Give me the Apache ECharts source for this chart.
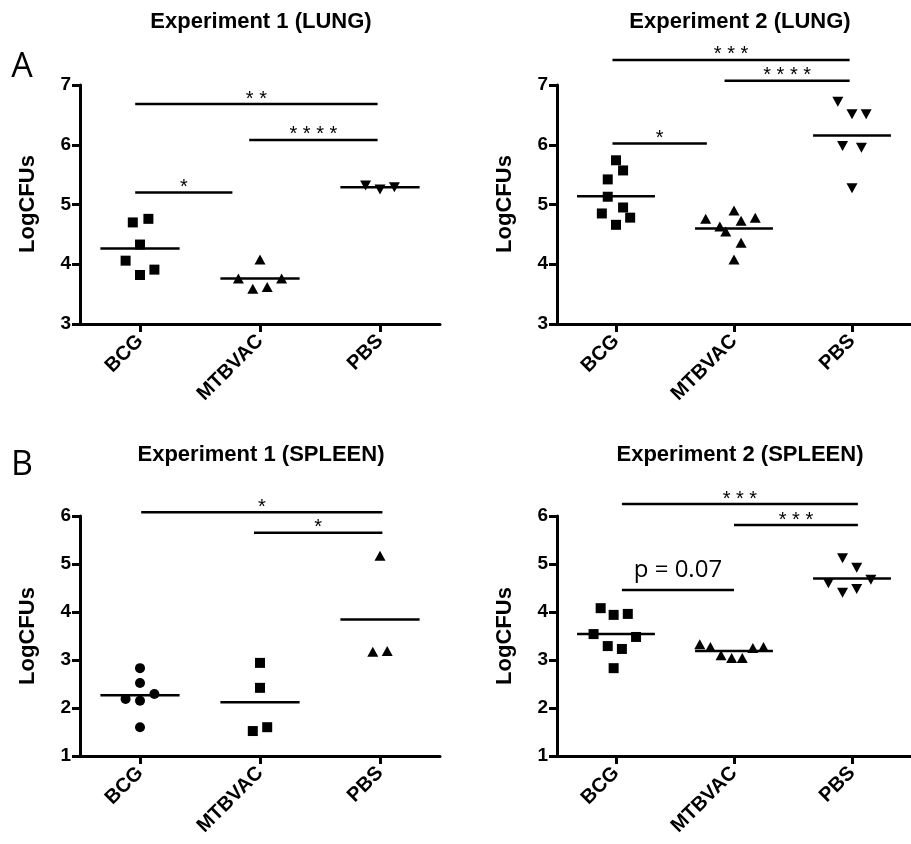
<!DOCTYPE html>
<html>
<head>
<meta charset="utf-8">
<script src="https://cdn.jsdelivr.net/npm/echarts@6/dist/echarts.min.js"></script>
<style>html,body{margin:0;padding:0;background:#fff;}#c{width:911px;height:844px;}</style>
</head>
<body>
<div id="c"></div>
<script>
// ---------- DATA ----------
const categories = ['BCG', 'MTBVAC', 'PBS'];
const titles = ['Experiment 1 (LUNG)', 'Experiment 2 (LUNG)', 'Experiment 1 (SPLEEN)', 'Experiment 2 (SPLEEN)'];
const yTicksLung = [3, 4, 5, 6, 7];
const yTicksSpleen = [1, 2, 3, 4, 5, 6];

// Experiment 1 (LUNG)
const lung1BCG = [4.70, 4.76, 4.33, 4.06, 3.82, 3.91];
const lung1BCGx = [-0.06, 0.07, 0, -0.12, 0, 0.12];
const lung1MTB = [4.08, 3.76, 3.59, 3.62, 3.76];
const lung1MTBx = [0, -0.18, -0.06, 0.06, 0.18];
const lung1PBS = [5.32, 5.25, 5.29];
const lung1PBSx = [-0.12, 0, 0.12];
const lung1Sig = [[-0.04, 0.77, 5.20, '*'], [0.91, 1.98, 6.08, '* * * *'], [-0.04, 1.98, 6.68, '* *']];

// Experiment 2 (LUNG)
const lung2BCG = [5.74, 5.57, 5.42, 5.13, 4.85, 4.95, 4.78, 4.66];
const lung2BCGx = [0, 0.06, -0.07, -0.07, -0.12, 0.06, 0.12, 0];
const lung2MTB = [4.90, 4.76, 4.73, 4.78, 4.63, 4.55, 4.36, 4.08];
const lung2MTBx = [0, -0.24, 0.06, 0.18, -0.12, -0.07, 0.06, 0];
const lung2PBS = [6.72, 6.51, 6.51, 5.98, 5.95, 5.27];
const lung2PBSx = [-0.12, 0, 0.12, -0.08, 0.08, 0];
const lung2Sig = [[-0.03, 0.77, 6.02, '*'], [0.92, 1.98, 7.07, '* * * *'], [-0.03, 1.98, 7.42, '* * *']];

// Experiment 1 (SPLEEN)
const spl1BCG = [2.83, 2.52, 2.29, 2.19, 2.15, 1.60];
const spl1BCGx = [0, 0, 0.12, -0.12, 0, 0];
const spl1MTB = [2.94, 2.42, 1.52, 1.60];
const spl1MTBx = [0, 0, -0.06, 0.06];
const spl1PBS = [5.17, 3.17, 3.19];
const spl1PBSx = [0, -0.06, 0.06];
const spl1Sig = [[0.01, 2.02, 6.08, '*'], [0.95, 2.02, 5.65, '*']];

// Experiment 2 (SPLEEN)
const spl2BCG = [4.08, 3.94, 3.96, 3.54, 3.48, 3.29, 3.23, 2.83];
const spl2BCGx = [-0.13, -0.02, 0.10, -0.19, 0.17, -0.07, 0.05, -0.02];
const spl2MTB = [3.33, 3.27, 3.10, 3.04, 3.04, 3.25, 3.27];
const spl2MTBx = [-0.29, -0.20, -0.11, -0.02, 0.07, 0.16, 0.25];
const spl2PBS = [5.12, 4.92, 4.60, 4.67, 4.40, 4.48];
const spl2PBSx = [-0.08, 0.04, -0.20, 0.16, -0.08, 0.04];
const spl2Sig = [[0.05, 1.00, 4.46, 'p = 0.07'], [1.00, 2.05, 5.81, '* * *'], [0.05, 2.05, 6.25, '* * *']];

// ---------- CHART ----------
const AR = '"Liberation Sans", Arial, sans-serif';
const chart = echarts.init(document.getElementById('c'), null, {renderer: 'canvas'});

const panels = [
  {grid: {left: 80, top: 85, width: 360, height: 239}, ticks: yTicksLung,
   groups: [[lung1BCG, lung1BCGx, 'rect', 0], [lung1MTB, lung1MTBx, 'triangle', 0], [lung1PBS, lung1PBSx, 'triangle', 180]], sig: lung1Sig},
  {grid: {left: 557, top: 85, width: 360, height: 239}, ticks: yTicksLung,
   groups: [[lung2BCG, lung2BCGx, 'rect', 0], [lung2MTB, lung2MTBx, 'triangle', 0], [lung2PBS, lung2PBSx, 'triangle', 180]], sig: lung2Sig},
  {grid: {left: 80, top: 516, width: 360, height: 240}, ticks: yTicksSpleen,
   groups: [[spl1BCG, spl1BCGx, 'circle', 0], [spl1MTB, spl1MTBx, 'rect', 0], [spl1PBS, spl1PBSx, 'triangle', 0]], sig: spl1Sig},
  {grid: {left: 557, top: 516, width: 360, height: 240}, ticks: yTicksSpleen,
   groups: [[spl2BCG, spl2BCGx, 'rect', 0], [spl2MTB, spl2MTBx, 'triangle', 0], [spl2PBS, spl2PBSx, 'triangle', 180]], sig: spl2Sig}
];

const mean = a => a.reduce((s, v) => s + v, 0) / a.length;

const grid = [], xAxis = [], yAxis = [], series = [];
const axisLine = {show: true, onZero: false, lineStyle: {color: '#000', width: 3}};
const axisTick = {show: true, length: 8, lineStyle: {color: '#000', width: 3}};

panels.forEach((p, i) => {
  grid.push(Object.assign({containLabel: false}, p.grid));
  // visible category axis
  xAxis.push({type: 'category', gridIndex: i, data: categories, boundaryGap: true,
    axisLine: axisLine, axisTick: Object.assign({alignWithLabel: true}, axisTick),
    axisLabel: {rotate: 45, margin: 14, interval: 0, color: '#000', fontFamily: AR, fontWeight: 'bold', fontSize: 20},
    splitLine: {show: false}});
  // hidden value axis for marks
  xAxis.push({type: 'value', gridIndex: i, min: -0.5, max: 2.5, show: false});
  const tk = p.ticks;
  yAxis.push({type: 'value', gridIndex: i, min: tk[0], max: tk[tk.length - 1], interval: 1,
    axisLine: axisLine, axisTick: axisTick, splitLine: {show: false},
    axisLabel: {margin: 9, color: '#000', fontFamily: AR, fontWeight: 'bold', fontSize: 19}});
  const xi = i * 2 + 1;
  p.groups.forEach((g, k) => {
    const isTri = g[2] === 'triangle';
    series.push({type: 'scatter', xAxisIndex: xi, yAxisIndex: i,
      symbol: g[2], symbolRotate: g[3], symbolSize: isTri ? [11, 10] : 10,
      itemStyle: {color: '#000', opacity: 1}, silent: true,
      data: g[0].map((v, j) => [k + g[1][j], v])});
  });
  // mean lines
  series.push({type: 'custom', xAxisIndex: xi, yAxisIndex: i, clip: false, silent: true,
    data: p.groups.map((g, k) => [k, mean(g[0])]),
    renderItem: function (params, api) {
      const x = api.value(0), y = api.value(1);
      const a = api.coord([x - 0.33, y]), b = api.coord([x + 0.33, y]);
      return {type: 'line', shape: {x1: a[0], y1: a[1], x2: b[0], y2: b[1]}, style: {stroke: '#000', lineWidth: 2.5}};
    }});
  // significance bars
  const sig = p.sig;
  series.push({type: 'custom', xAxisIndex: xi, yAxisIndex: i, clip: false, silent: true,
    encode: {x: [0, 1], y: 2},
    data: sig.map(s => [s[0], s[1], s[2]]),
    renderItem: function (params, api) {
      const a = api.coord([api.value(0), api.value(2)]), b = api.coord([api.value(1), api.value(2)]);
      const label = sig[params.dataIndex][3];
      const isP = label.charAt(0) === 'p';
      return {type: 'group', children: [
        {type: 'line', shape: {x1: a[0], y1: a[1], x2: b[0], y2: b[1]}, style: {stroke: '#000', lineWidth: 2.5}},
        {type: 'text', x: (a[0] + b[0]) / 2, y: a[1] - (isP ? 20 : 5),
          style: {text: label, fill: '#000', align: 'center', verticalAlign: 'middle',
            textAlign: 'center', textVerticalAlign: 'middle',
            font: isP ? '24px "Open Sans", sans-serif' : '20px "Liberation Sans", Arial, sans-serif'}}
      ]};
    }});
});

const graphic = [];
const titlePos = [[261, 22], [740, 22], [261, 455], [740, 455]];
titles.forEach((t, i) => graphic.push({type: 'text', x: titlePos[i][0], y: titlePos[i][1],
  style: {text: t, fill: '#000', font: 'bold 22px "Liberation Sans", Arial, sans-serif', align: 'center', verticalAlign: 'middle'}}));
const ylabPos = [[28, 204], [505, 204], [28, 636], [505, 636]];
ylabPos.forEach(pp => graphic.push({type: 'text', x: pp[0], y: pp[1], rotation: Math.PI / 2,
  style: {text: 'LogCFUs', fill: '#000', font: 'bold 22px "Liberation Sans", Arial, sans-serif', align: 'center', verticalAlign: 'middle'}}));
graphic.push({type: 'text', x: 22, y: 67, style: {text: 'A', fill: '#000', font: '34px "Open Sans", sans-serif', align: 'center', verticalAlign: 'middle'}});
graphic.push({type: 'text', x: 22, y: 465, style: {text: 'B', fill: '#000', font: '34px "Open Sans", sans-serif', align: 'center', verticalAlign: 'middle'}});

chart.setOption({animation: false, backgroundColor: '#fff', grid, xAxis, yAxis, series, graphic});
</script>
</body>
</html>
